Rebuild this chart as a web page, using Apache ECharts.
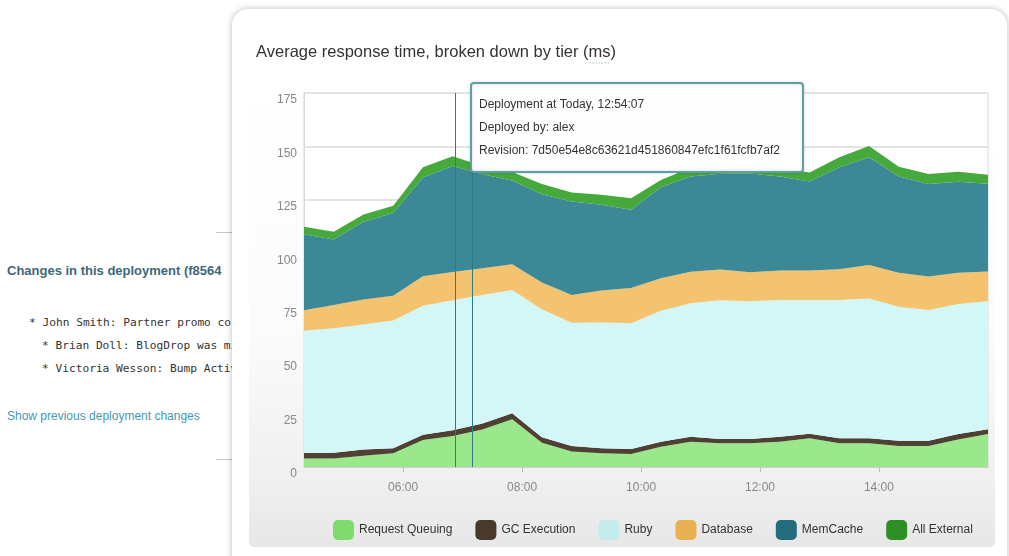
<!DOCTYPE html>
<html>
<head>
<meta charset="utf-8">
<script src="https://cdn.jsdelivr.net/npm/echarts@6/dist/echarts.min.js"></script>
<style>
  html, body { margin:0; padding:0; }
  body { width:1009px; height:556px; overflow:hidden; background:#fff; position:relative;
         font-family:'Liberation Sans', Arial, Helvetica, sans-serif; }
  .abs { position:absolute; white-space:nowrap; }
  #changes { left:7px; top:263px; font-size:13px; font-weight:bold; color:#40687a; }
  .mono { font-family:'DejaVu Sans Mono', 'Liberation Mono', monospace; font-size:11.2px; color:#333; }
  #link { left:7px; top:409px; font-size:12px; color:#4a97ae; }
  .rule { position:absolute; left:216px; width:16px; height:1px; background:#c4c4c4; }
  #card { position:absolute; left:232px; top:9px; width:775px; height:580px; background:#fff;
          border-radius:16px; box-shadow:0 0 6px rgba(0,0,0,0.28); z-index:1; }
  #panel { position:absolute; left:249px; top:76px; width:746px; height:471px; border-radius:5px;
           background:linear-gradient(to bottom, #ffffff 0%, #fbfbfb 55%, #f0f0f0 85%, #e7e7e7 100%); z-index:2; }
  #chart { position:absolute; left:0; top:0; width:1009px; height:556px; z-index:3; }
</style>
</head>
<body>
<div class="abs" id="changes">Changes in this deployment (f8564</div>
<div class="abs mono" style="left:29px;top:316px;">* John Smith: Partner promo co</div>
<div class="abs mono" style="left:42px;top:339px;">* Brian Doll: BlogDrop was mi</div>
<div class="abs mono" style="left:42px;top:362px;">* Victoria Wesson: Bump Activ</div>
<div class="abs" id="link">Show previous deployment changes</div>
<div class="rule" style="top:232px;"></div>
<div class="rule" style="top:459px;"></div>
<div id="card"></div>
<div id="panel"></div>
<div id="chart"></div>
<script>
// ---- data ----
const times = ['04:20','04:50','05:20','05:50','06:20','06:50','07:20','07:50','08:20','08:50','09:20','09:50',
               '10:20','10:50','11:20','11:50','12:20','12:50','13:20','13:50','14:20','14:50','15:20','15:50'];
const requestQueuing = [4.0,4.0,5.3,6.4,12.6,14.5,17.6,22.3,11.4,7.2,6.4,6.1,9.5,11.8,11.1,11.1,11.8,13.4,11.1,11.1,9.8,9.8,12.9,15.4];
const gcExecution    = [2.6,2.7,2.9,2.4,2.5,2.7,2.8,2.8,2.5,2.6,2.4,2.3,2.3,2.4,2.0,2.0,2.4,2.1,2.3,2.3,2.5,2.5,2.5,2.3];
const ruby           = [57.1,58.2,58.5,59.8,60.3,60.8,60.1,57.7,59.9,57.7,58.8,58.9,61.3,62.4,64.9,64.5,63.9,62.7,64.7,65.5,62.7,61.2,60.9,59.8];
const database       = [9.7,10.9,11.7,11.5,13.8,13.3,12.5,12.1,12.5,13.0,15.0,16.4,15.2,14.8,14.4,13.5,13.8,13.8,14.4,15.6,15.9,15.6,14.6,14.0];
const memCache       = [35.5,30.7,36.3,38.7,46.3,49.5,44.0,39.1,41.3,43.7,40.1,36.7,42.6,44.5,44.8,46.2,44.0,41.6,47.7,50.4,45.0,43.3,42.6,41.0];
const allExternal    = [3.5,3.6,3.4,3.4,4.8,4.6,3.8,4.0,4.8,4.2,4.7,5.4,3.4,4.1,4.0,3.9,4.1,4.2,4.7,5.3,4.6,4.7,4.7,4.2];
const seriesNames = ['Request Queuing','GC Execution','Ruby','Database','MemCache','All External'];
const xTickLabels = ['06:00','08:00','10:00','12:00','14:00'];
const yTickLabels = ['0','25','50','75','100','125','150','175'];
const deployTimes = ['06:53','07:09:30'];
const tooltipLines = ['Deployment at Today, 12:54:07','Deployed by: alex','Revision: 7d50e54e8c63621d451860847efc1f61fcfb7af2'];
const titleBefore = 'Average response time, broken down by tier (';
const titleAbbr = 'ms';
const titleAfter = ')';

// ---- helpers ----
function toHours(s){ const p = s.split(':').map(Number); return p[0] + p[1]/60 + (p[2]||0)/3600; }
const xVals = times.map(toHours);
const xTickVals = xTickLabels.map(toHours);
const allSeries = [requestQueuing, gcExecution, ruby, database, memCache, allExternal];
const areaColors   = ['#9be88c','#4e4133','#d3f7f7','#f3c370','#3c8897','#46a93b'];
const legendColors = ['#7ddc6c','#48392a','#c3ecec','#e9b152','#236c7d','#2f8f25'];
const font = "'Liberation Sans', Arial, Helvetica, sans-serif";
const titleFontPx = 16.5;
const titleX = 256;

// measure title to place the dotted abbr underline
const mctx = document.createElement('canvas').getContext('2d');
mctx.font = titleFontPx + "px 'Liberation Sans', Arial, sans-serif";
const abbrStart = titleX + mctx.measureText(titleBefore).width;
const abbrEnd = abbrStart + mctx.measureText(titleAbbr).width;

const series = allSeries.map((vals, i) => ({
  name: seriesNames[i], type: 'line', stack: 'total', symbol: 'none', smooth: false,
  xAxisIndex: 0, data: vals,
  lineStyle: { width: 0 },
  itemStyle: { color: legendColors[i] },
  areaStyle: { color: areaColors[i], opacity: 1 },
  emphasis: { disabled: true }
}));
// deployment markers on the time-valued axis
series.push({
  name: 'deployments', type: 'line', xAxisIndex: 1, data: [], symbol: 'none', silent: true,
  z: 5,
  markLine: {
    silent: true, symbol: ['none','none'], label: { show: false },
    lineStyle: { color: '#2e7b83', width: 1, type: 'solid' },
    data: deployTimes.map(t => ({ xAxis: toHours(t) }))
  }
});

const chart = echarts.init(document.getElementById('chart'), null, { renderer: 'canvas' });
chart.setOption({
  backgroundColor: 'transparent',
  animation: false,
  textStyle: { fontFamily: font },
  title: {
    text: titleBefore + titleAbbr + titleAfter, left: titleX - 5, top: 39,
    textStyle: { fontSize: titleFontPx, fontWeight: 'normal', color: '#333', fontFamily: font }
  },
  legend: {
    data: seriesNames, left: 333, top: 520, itemWidth: 21, itemHeight: 20, itemGap: 23,
    icon: 'roundRect', padding: 0,
    textStyle: { fontSize: 12, color: '#333', fontFamily: font }
  },
  grid: { left: 304, right: 21, top: 93, bottom: 89, show: true, backgroundColor: '#fff',
          borderColor: '#d9d9d9', borderWidth: 1, containLabel: false },
  xAxis: [
    {
      type: 'category', data: times, boundaryGap: false, position: 'bottom',
      axisLine: { show: false }, axisTick: { show: false }, axisLabel: { show: false }, splitLine: { show: false }
    },
    {
      type: 'value', min: xVals[0], max: xVals[xVals.length-1], position: 'bottom',
      axisLine: { show: true, lineStyle: { color: '#cfcfcf' } },
      axisTick: { show: true, customValues: xTickVals, length: 5, lineStyle: { color: '#bbb' } },
      axisLabel: { customValues: xTickVals, color: '#888', fontSize: 12, margin: 15,
                   formatter: v => { const i = xTickVals.findIndex(t => Math.abs(t - v) < 1e-6); return i >= 0 ? xTickLabels[i] : ''; } },
      splitLine: { show: false }
    }
  ],
  yAxis: {
    type: 'value', min: 0, max: 175, interval: 25,
    axisLine: { show: true, lineStyle: { color: '#d9d9d9' } },
    axisTick: { show: false },
    axisLabel: { color: '#888', fontSize: 12, margin: 7, verticalAlign: 'top', lineHeight: 14,
                 formatter: v => yTickLabels[Math.round(v / 25)] },
    splitLine: { show: true, lineStyle: { color: '#e3e3e3', width: 2 } }
  },
  series: series,
  graphic: [
    { type: 'line', z: 100, silent: true,
      shape: { x1: abbrStart + 1, y1: 63, x2: abbrEnd - 1, y2: 63 },
      style: { stroke: '#7aa9c0', lineWidth: 1, lineDash: [1, 2] } },
    { type: 'rect', z: 100, silent: true, shape: { x: 471, y: 83, width: 332, height: 89, r: 3 },
      style: { fill: 'rgba(255,255,255,0.97)', stroke: '#5e9fa6', lineWidth: 2,
               shadowBlur: 3, shadowColor: 'rgba(0,0,0,0.15)' } },
    ...tooltipLines.map((t, i) => ({
      type: 'text', z: 101, silent: true, x: 479, y: 105 + i * 23,
      style: { text: t, fill: '#333', font: "12px 'Liberation Sans', Arial, sans-serif", textVerticalAlign: 'middle' }
    }))
  ]
});
</script>
</body>
</html>
